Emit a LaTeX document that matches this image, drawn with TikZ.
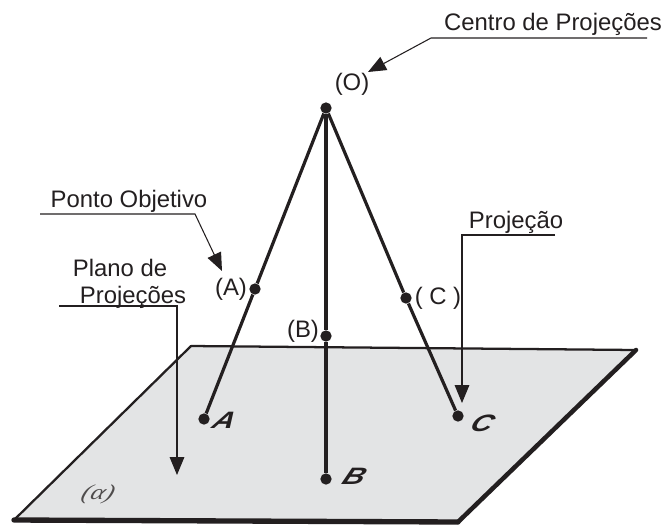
\documentclass[tikz,border=0pt]{standalone}
\usepackage{fontspec}
\setmainfont{Liberation Sans}
\newfontfamily\alphafont{Liberation Serif}
\usetikzlibrary{arrows.meta}
\definecolor{inkblack}{HTML}{231F20}
\definecolor{planegray}{HTML}{E3E4E5}
\tikzset{
    rotulo/.style={font=\fontsize{17.9}{20}\selectfont, text=inkblack, inner sep=0pt, anchor=base},
    ponto/.style={circle, fill=inkblack, minimum size=8.5pt, inner sep=0pt},
    raio/.style={draw=inkblack, line width=2.4pt},
    guia/.style={draw=inkblack, line width=0.8pt},
    seta/.style={guia, -{Triangle[length=13.5pt, width=11pt]}},
    proj/.style={font=\fontsize{17.8}{20}\selectfont\bfseries\itshape, text=inkblack, inner sep=0pt, xscale=1.25, xslant=0.35, transform shape}
}
\begin{document}
\begin{tikzpicture}[x=0.75pt, y=-0.75pt]
            \useasboundingbox (0,0) rectangle (665,526);
            % plano
            \coordinate (p1) at (191,346);
            \coordinate (p2) at (636,350);
            \coordinate (p3) at (458,522);
            \coordinate (p4) at (14,520);
            \fill [planegray] (p1) -- (p2) -- (p3) -- (p4) -- cycle;
            \draw [inkblack, line width=1.7pt, line cap=round] (p4) -- (p1);
            \draw [inkblack, line width=1.7pt] (p1) -- (p2);
            \draw [inkblack, line width=3.4pt, line cap=round] (p2) -- (p3);
            \draw [inkblack, line width=4pt, line cap=round] (p3) -- (p4);
            % pontos
            \node [ponto] (O) at (326,108) {};
            \node [ponto] (Ao) at (255,289) {};
            \node [ponto] (Bo) at (326,336) {};
            \node [ponto] (Co) at (406,298) {};
            \node [ponto] (A) at (204,419) {};
            \node [ponto] (B) at (326,479) {};
            \node [ponto] (C) at (458,416) {};
            % raios
            \draw [raio] (O) -- (Ao);
            \draw [raio] (Ao) -- (A);
            \draw [raio] (O) -- (Bo);
            \draw [raio] (Bo) -- (B);
            \draw [raio] (O) -- (Co);
            \draw [raio] (Co) -- (C);
            % textos
            \node [rotulo] (tO) at (352,90) {(O)};
            \node [rotulo] (tA) at (231,295) {(A)};
            \node [rotulo] (tB) at (303,337) {(B)};
            \node [rotulo] (tC) at (438,304) {( C )};
            \node [proj] (lA) at (225,420) {A};
            \node [proj] (lB) at (355,476) {B};
            \node [proj] (lC) at (483,423) {C};
            \node [font=\alphafont\itshape\fontsize{16}{18}\selectfont, text=inkblack!80, inner sep=0pt, xscale=1.25, xslant=0.3, transform shape] (alfa) at (98,494) {(α)};
            \node [rotulo] (tCentro) at (553,30) {Centro de Projeções};
            \node [rotulo] (tPonto) at (129,207) {Ponto Objetivo};
            \node [rotulo] (tPlano) at (120,276) {Plano de};
            \node [rotulo] (tProjs) at (133,303) {Projeções};
            \node [rotulo] (tProj) at (516,228) {Projeção};
            % guias
            \coordinate (g1a) at (647,38);
            \coordinate (g1b) at (431,38);
            \coordinate (g1c) at (368,72);
            \coordinate (g2a) at (40,214);
            \coordinate (g2b) at (195,214);
            \coordinate (g2c) at (222,271);
            \coordinate (g3a) at (59,306);
            \coordinate (g3b) at (177,306);
            \coordinate (g3c) at (177,475);
            \coordinate (g4a) at (555,235);
            \coordinate (g4b) at (462,235);
            \coordinate (g4c) at (462,403);
            \draw [seta] (g1a) -- (g1b) -- (g1c);
            \draw [seta] (g2a) -- (g2b) -- (g2c);
            \draw [seta] (g3a) -- (g3b) -- (g3c);
            \draw [seta] (g4a) -- (g4b) -- (g4c);
        \end{tikzpicture}
\end{document}
